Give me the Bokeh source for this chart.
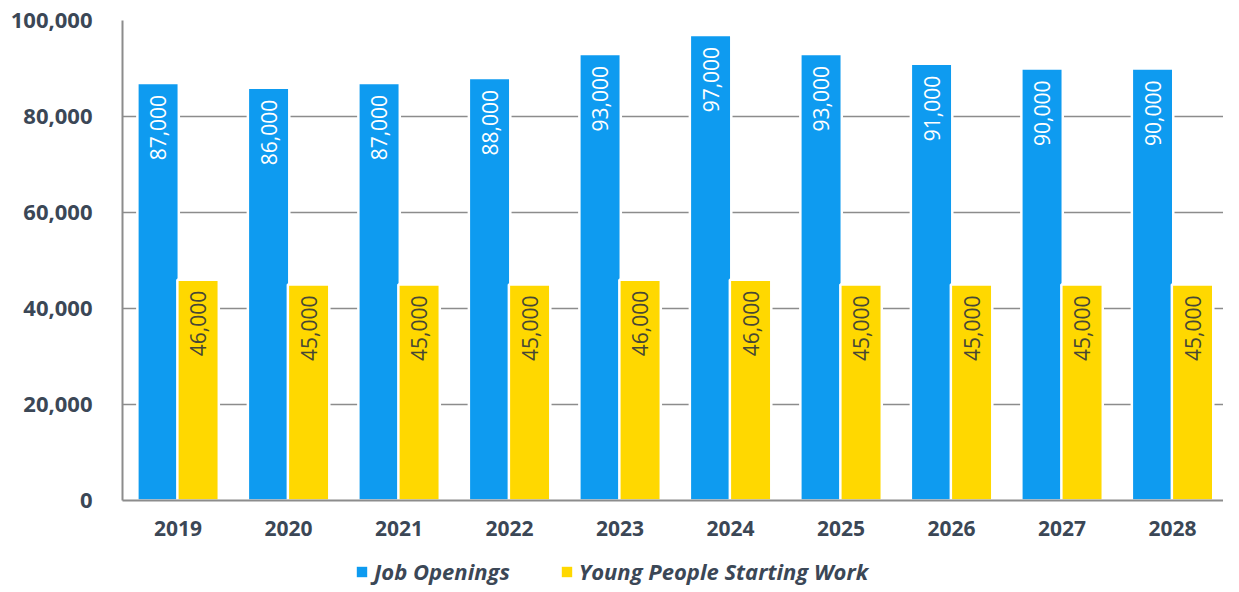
import numpy as np
from bokeh.plotting import figure
from bokeh.layouts import column
from bokeh.models import (ColumnDataSource, Range1d, FixedTicker, NumeralTickFormatter,
                          Legend, LegendItem)
from bokeh.embed import file_html
from bokeh.resources import INLINE
from bokeh.core.properties import value

years = ["2019", "2020", "2021", "2022", "2023", "2024", "2025", "2026", "2027", "2028"]
job_openings = [87000, 86000, 87000, 88000, 93000, 97000, 93000, 91000, 90000, 90000]
young_people = [46000, 45000, 45000, 45000, 46000, 46000, 45000, 45000, 45000, 45000]
y_ticks = [0, 20000, 40000, 60000, 80000, 100000]
series_names = ["Job Openings", "Young People Starting Work"]

BLUE = "#0e9bf0"
YELLOW = "#ffd800"
TEXT = "#3b4756"
GRID = "#8c8c8c"

idx = np.arange(len(years))
src = ColumnDataSource(dict(
    x=idx,
    xb=idx - 0.181,
    xy=idx + 0.181,
    jobs=job_openings,
    young=young_people,
    jobs_lbl=[f"{v:,}" for v in job_openings],
    young_lbl=[f"{v:,}" for v in young_people],
))

p = figure(width=1223, height=550, output_backend="svg", toolbar_location=None,
           x_range=Range1d(-0.503, 9.461), y_range=Range1d(0, 100000),
           min_border_left=122, min_border_right=0, min_border_top=20, min_border_bottom=50)
p.outline_line_color = None
p.background_fill_color = "white"

# bars
p.vbar(x="xb", top="jobs", width=0.375, source=src, fill_color=BLUE,
       line_color="white", line_width=2.5)
p.vbar(x="xy", top="young", width=0.375, source=src, fill_color=YELLOW,
       line_color="white", line_width=2.5)

# labels in bars
p.text(x="xb", y="jobs", text="jobs_lbl", source=src, angle=np.pi / 2,
       text_align="right", text_baseline="middle", y_offset=12,
       text_color="white", text_font=value("Open Sans"), text_font_size="21px")
p.text(x="xy", y="young", text="young_lbl", source=src, angle=np.pi / 2,
       text_align="right", text_baseline="middle", y_offset=11,
       text_color="#474735", text_font=value("Open Sans"), text_font_size="21px")

# axes
p.xaxis.ticker = FixedTicker(ticks=list(idx))
p.xaxis.major_label_overrides = {int(i): y for i, y in zip(idx, years)}
p.yaxis.ticker = FixedTicker(ticks=y_ticks)
p.yaxis.formatter = NumeralTickFormatter(format="0,0")
for ax in (p.xaxis, p.yaxis):
    ax.major_tick_line_color = None
    ax.minor_tick_line_color = None
    ax.axis_line_color = GRID
    ax.axis_line_width = 2
    ax.major_label_text_font = "Open Sans"
    ax.major_label_text_font_style = "bold"
    ax.major_label_text_color = TEXT
p.yaxis.major_label_text_font_size = "22px"
p.yaxis.major_label_standoff = 24
p.xaxis.major_label_text_font_size = "21px"
p.xaxis.major_label_standoff = 14

p.xgrid.grid_line_color = None
p.ygrid.grid_line_color = GRID
p.ygrid.grid_line_width = 1.6
p.ygrid.ticker = FixedTicker(ticks=y_ticks)

# legend strip (its frame is aligned with the main frame by the column layout)
lg = figure(width=1223, height=40, output_backend="svg", toolbar_location=None,
            x_range=Range1d(0, 1), y_range=Range1d(0, 1),
            x_axis_location=None, y_axis_location=None,
            min_border_left=0, min_border_right=0, min_border_top=0, min_border_bottom=0)
lg.outline_line_color = None
lg.background_fill_alpha = 0
lg.border_fill_alpha = 0
lg.xgrid.visible = False
lg.ygrid.visible = False
# zero-area swatch renderers outside the visible range; only their legend glyphs show
r1 = lg.vbar(x=[-5], top=[-5], bottom=[-5], width=0.3, fill_color=BLUE, line_color=None)
r2 = lg.vbar(x=[-5], top=[-5], bottom=[-5], width=0.3, fill_color=YELLOW, line_color=None)
legend = Legend(items=[LegendItem(label=series_names[0], renderers=[r1]),
                       LegendItem(label=series_names[1], renderers=[r2])],
                location=(233, 4), orientation="horizontal",
                glyph_width=13, glyph_height=13, label_height=13,
                label_standoff=6, spacing=50, padding=0, margin=0,
                border_line_color=None, background_fill_alpha=0,
                label_text_font="Open Sans", label_text_font_style="bold italic",
                label_text_font_size="22px", label_text_color=TEXT)
lg.add_layout(legend, "center")

layout = column(p, lg, spacing=0)
open("out.html", "w").write(file_html(layout, INLINE))
